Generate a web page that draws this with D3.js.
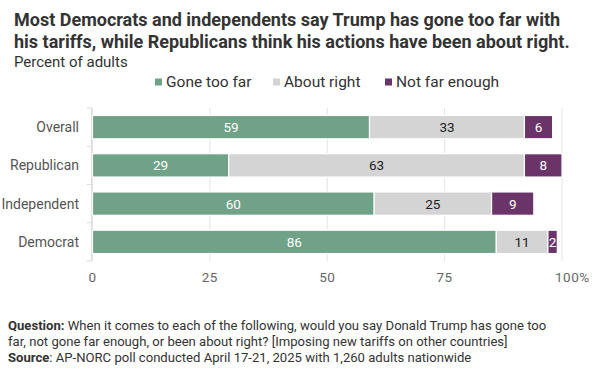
<!DOCTYPE html>
<html><head><meta charset="utf-8">
<script src="https://cdn.jsdelivr.net/npm/d3@7"></script>
<style>body{margin:0;background:#fff;}svg{display:block;font-family:Roboto,"Noto Sans",sans-serif;}</style>
</head><body>
<script>
const categories = ["Overall", "Republican", "Independent", "Democrat"];
const seriesNames = ["Gone too far", "About right", "Not far enough"];
const goneTooFar = [59, 29, 60, 86];
const aboutRight = [33, 63, 25, 11];
const notFarEnough = [6, 8, 9, 2];
const tickValues = [0, 25, 50, 75, 100];
const tickLabels = ["0", "25", "50", "75", "100%"];
const colors = ["#6fa287", "#d4d4d4", "#6a3469"];
const labelColors = ["#ffffff", "#222222", "#ffffff"];

const W = 594, H = 373;
const svg = d3.select("body").append("svg").attr("width", W).attr("height", H);

// Title
const title = svg.append("text").attr("font-weight", "bold").attr("font-size", 18).attr("fill", "#333");
title.append("tspan").attr("x", 14).attr("y", 25.5).text("Most Democrats and independents say Trump has gone too far with");
title.append("tspan").attr("x", 14).attr("y", 48).text("his tariffs, while Republicans think his actions have been about right.");
svg.append("text").attr("x", 14).attr("y", 66.5).attr("font-size", 15).attr("fill", "#333").text("Percent of adults");

// Legend
const legendX = [155, 273, 385];
seriesNames.forEach((s, i) => {
  svg.append("rect").attr("x", legendX[i]).attr("y", 78.5).attr("width", 7).attr("height", 7).attr("fill", colors[i]);
  svg.append("text").attr("x", legendX[i] + 11).attr("y", 87).attr("font-size", 15.5).attr("fill", "#333").text(s);
});

const x = d3.scaleLinear().domain([0, 100]).range([92.5, 562]);
const y = d3.scaleBand().domain(categories).range([108, 261]).padding(0);

// grid
svg.append("g").selectAll("line").data(tickValues).join("line")
  .attr("x1", d => x(d)).attr("x2", d => x(d)).attr("y1", 108).attr("y2", 261)
  .attr("stroke", "#e3e3e3").attr("stroke-width", 1);

// y axis line & ticks
svg.append("line").attr("x1", 91.5).attr("x2", 91.5).attr("y1", 108).attr("y2", 261).attr("stroke", "#ddd");
const bounds = categories.map(c => y(c)).concat([261]);
svg.append("g").selectAll("line").data(bounds).join("line")
  .attr("x1", 87).attr("x2", 91.5).attr("y1", d => d).attr("y2", d => d).attr("stroke", "#ddd");

// category labels
svg.append("g").selectAll("text").data(categories).join("text")
  .attr("x", 79).attr("y", d => y(d) + y.bandwidth() / 2 + 5)
  .attr("text-anchor", "end").attr("font-size", 14).attr("fill", "#555").text(d => d);

// stacked bars
const rows = categories.map((c, i) => ({cat: c, vals: [goneTooFar[i], aboutRight[i], notFarEnough[i]]}));
const barH = y.bandwidth() * 0.61;
const segs = [];
rows.forEach(r => {
  let acc = 0;
  r.vals.forEach((v, k) => { segs.push({cat: r.cat, k, v, x0: acc, x1: acc + v}); acc += v; });
});
const g = svg.append("g");
g.selectAll("rect").data(segs).join("rect")
  .attr("x", d => x(d.x0)).attr("width", d => x(d.x1) - x(d.x0))
  .attr("y", d => y(d.cat) + (y.bandwidth() - barH) / 2).attr("height", barH)
  .attr("fill", d => colors[d.k]).attr("stroke", "#fff").attr("stroke-width", 1.2);
g.selectAll("text").data(segs).join("text")
  .attr("x", d => (x(d.x0) + x(d.x1)) / 2).attr("y", d => y(d.cat) + y.bandwidth() / 2 + 5)
  .attr("text-anchor", "middle").attr("font-size", 13.5).attr("fill", d => labelColors[d.k])
  .text(d => d.v);

// x tick labels
svg.append("g").selectAll("text").data(tickValues).join("text")
  .attr("x", (d, i) => i === tickValues.length - 1 ? x(d) - 7 : x(d)).attr("y", 282)
  .attr("text-anchor", (d, i) => i === tickValues.length - 1 ? "start" : "middle")
  .attr("font-size", 13.5).attr("fill", "#666").attr("letter-spacing", 0.5)
  .text((d, i) => tickLabels[i]);

// Footnotes
const fn = svg.append("g").attr("font-size", 13.1).attr("fill", "#333");
const l1 = fn.append("text").attr("x", 8).attr("y", 330);
l1.append("tspan").attr("font-weight", "bold").text("Question:");
l1.append("tspan").text(" When it comes to each of the following, would you say Donald Trump has gone too");
fn.append("text").attr("x", 8).attr("y", 346).text("far, not gone far enough, or been about right? [Imposing new tariffs on other countries]");
const l3 = fn.append("text").attr("x", 8).attr("y", 362);
l3.append("tspan").attr("font-weight", "bold").text("Source");
l3.append("tspan").text(": AP-NORC poll conducted April 17-21, 2025 with 1,260 adults nationwide");
</script>
</body></html>
